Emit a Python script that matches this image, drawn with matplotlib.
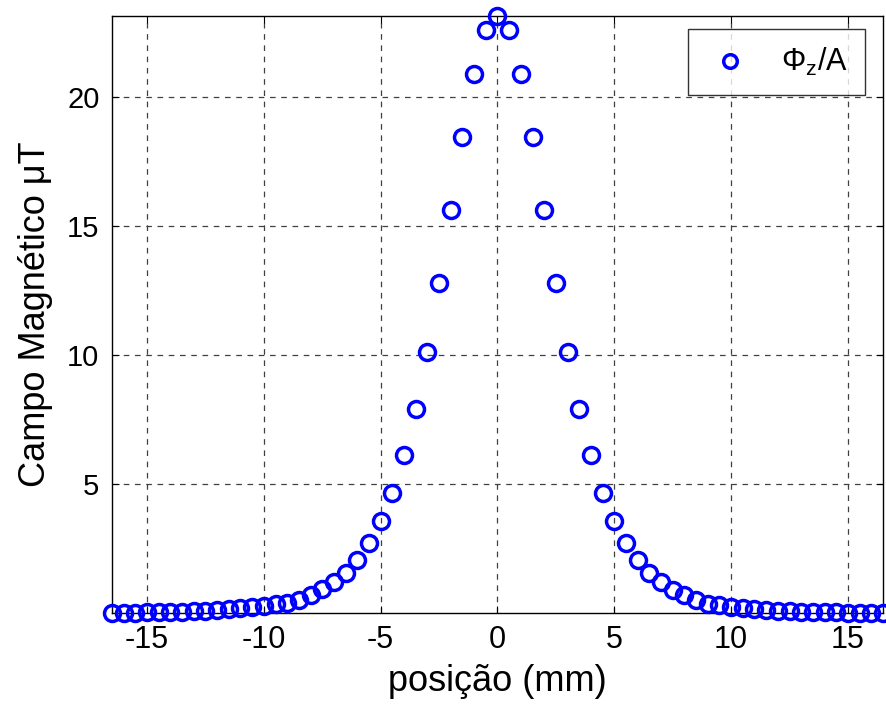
import matplotlib
matplotlib.use("Agg")
import matplotlib.pyplot as plt
import numpy as np

plt.rcParams["font.family"] = ["Liberation Sans", "DejaVu Sans"]
plt.rcParams["mathtext.fontset"] = "custom"
plt.rcParams["mathtext.rm"] = "Liberation Sans"
plt.rcParams["mathtext.it"] = "Liberation Sans"
plt.rcParams["axes.unicode_minus"] = False

# probe positions along the axis (mm), 0.5 mm spacing
posicao = np.arange(-16.5, 16.5 + 0.25, 0.5)

# measured field per unit current (uT)
campo = [
    0.035, 0.04, 0.045, 0.05, 0.06, 0.07, 0.08, 0.10, 0.12, 0.14,
    0.17, 0.21, 0.25, 0.30, 0.36, 0.43, 0.53, 0.72, 0.95, 1.24,
    1.58, 2.08, 2.74, 3.58, 4.68, 6.14, 7.92, 10.13, 12.78, 15.60,
    18.42, 20.86, 22.57,
    23.12,
    22.57, 20.86, 18.42, 15.60, 12.78, 10.13, 7.92, 6.14, 4.68, 3.57,
    2.72, 2.09, 1.57, 1.23, 0.92, 0.73, 0.52, 0.39, 0.32, 0.27,
    0.22, 0.18, 0.15, 0.12, 0.10, 0.085, 0.07, 0.06, 0.05, 0.045,
    0.04, 0.035, 0.03,
]

xticks = [-15, -10, -5, 0, 5, 10, 15]
yticks = [5, 10, 15, 20]

fig = plt.figure(figsize=(8.86, 7.04), dpi=100)
ax = fig.add_axes([0.1264, 0.1293, 0.8702, 0.848])

ax.plot(posicao, campo, "o", mfc="none", mec=(0, 0, 1), ms=11.5, mew=2.5,
        label=r"$\Phi_z$/A", clip_on=False, zorder=3)

ax.set_xlim(posicao[0], posicao[-1])
ax.set_ylim(min(campo), max(campo))
ax.set_xticks(xticks)
ax.set_yticks(yticks)
ax.tick_params(direction="in", top=True, right=True, length=5, width=0.8)
ax.tick_params(axis="x", labelsize=22, pad=9)
ax.tick_params(axis="y", labelsize=21, pad=9)
for s in ax.spines.values():
    s.set_linewidth(1.0)

ax.grid(True, color="0.25", linestyle=(0, (4.5, 4.5)), linewidth=0.9)
ax.set_axisbelow(True)

ax.set_xlabel("posição (mm)", fontsize=26, labelpad=6)
ax.set_ylabel("Campo Magnético μT", fontsize=26, labelpad=10)

leg = ax.legend(loc="upper right", bbox_to_anchor=(0.992, 0.998), fontsize=22,
                frameon=True, fancybox=False, edgecolor="k", borderaxespad=0.4,
                handletextpad=0.8, borderpad=0.55, handlelength=1.7,
                markerscale=0.85)
leg.get_frame().set_linewidth(1.0)

fig.savefig("out.png", dpi=100)
